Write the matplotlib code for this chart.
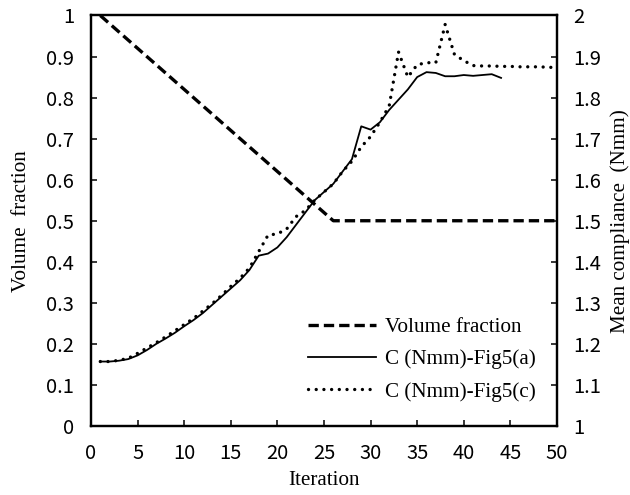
import numpy as np
import matplotlib
matplotlib.use("Agg")
import matplotlib.pyplot as plt

# ── data ──────────────────────────────────────────────────────────────
iters = list(range(1, 51))
vol_frac = [1.00, 0.98, 0.96, 0.94, 0.92, 0.90, 0.88, 0.86, 0.84, 0.82,
            0.80, 0.78, 0.76, 0.74, 0.72, 0.70, 0.68, 0.66, 0.64, 0.62,
            0.60, 0.58, 0.56, 0.54, 0.52, 0.50, 0.50, 0.50, 0.50, 0.50,
            0.50, 0.50, 0.50, 0.50, 0.50, 0.50, 0.50, 0.50, 0.50, 0.50,
            0.50, 0.50, 0.50, 0.50, 0.50, 0.50, 0.50, 0.50, 0.50, 0.50]

iters_a = list(range(1, 45))
comp_a = [1.157, 1.157, 1.159, 1.163, 1.172, 1.185, 1.200, 1.213, 1.227, 1.243,
          1.258, 1.275, 1.295, 1.315, 1.335, 1.355, 1.380, 1.415, 1.420, 1.435,
          1.460, 1.490, 1.520, 1.550, 1.570, 1.590, 1.620, 1.650, 1.730, 1.722,
          1.740, 1.770, 1.795, 1.820, 1.850, 1.862, 1.860, 1.852, 1.852, 1.855,
          1.853, 1.855, 1.857, 1.848]

iters_c = list(range(1, 51))
comp_c = [1.157, 1.157, 1.160, 1.165, 1.177, 1.190, 1.203, 1.217, 1.232, 1.247,
          1.262, 1.280, 1.298, 1.318, 1.340, 1.360, 1.385, 1.425, 1.465, 1.468,
          1.480, 1.510, 1.525, 1.550, 1.570, 1.590, 1.620, 1.645, 1.680, 1.705,
          1.740, 1.780, 1.911, 1.850, 1.880, 1.885, 1.885, 1.978, 1.905, 1.890,
          1.878, 1.877, 1.877, 1.876, 1.876, 1.875, 1.875, 1.875, 1.874, 1.873]

left_ticks = [0, 0.1, 0.2, 0.3, 0.4, 0.5, 0.6, 0.7, 0.8, 0.9, 1]
left_labels = ["0", "0.1", "0.2", "0.3", "0.4", "0.5", "0.6", "0.7", "0.8", "0.9", "1"]
right_ticks = [1, 1.1, 1.2, 1.3, 1.4, 1.5, 1.6, 1.7, 1.8, 1.9, 2]
right_labels = ["1", "1.1", "1.2", "1.3", "1.4", "1.5", "1.6", "1.7", "1.8", "1.9", "2"]
x_ticks = list(range(0, 51, 5))

TICK_FONT = "Noto Sans CJK JP"
LABEL_FONT = "Liberation Serif"
FS = 14.5      # tick labels
LFS = 15.2     # axis labels / legend

fig = plt.figure(figsize=(6.3, 4.95), dpi=100)
ax = fig.add_axes([0.1444, 0.1394, 0.7397, 0.8293])
ax2 = ax.twinx()

# -- curves
l1, = ax.plot(iters, vol_frac, color="black", lw=2.4,
              linestyle=(0, (3.1, 1.5)), label="Volume fraction")
l2, = ax2.plot(iters_a, comp_a, color="black", lw=1.3,
               label="C (Nmm)-Fig5(a)")
l3, = ax2.plot(iters_c, comp_c, color="black", lw=2.4,
               linestyle=(0, (0.01, 2.3)), dash_capstyle="round",
               label="C (Nmm)-Fig5(c)")

# -- axes limits / ticks
ax.set_xlim(0, 50)
ax.set_ylim(0, 1)
ax2.set_ylim(1, 2)
ax.set_xticks(x_ticks)
ax.set_xticklabels([str(t) for t in x_ticks], fontfamily=TICK_FONT, fontsize=FS)
ax.set_yticks(left_ticks)
ax.set_yticklabels(left_labels, fontfamily=TICK_FONT, fontsize=FS)
ax2.set_yticks(right_ticks)
ax2.set_yticklabels(right_labels, fontfamily=TICK_FONT, fontsize=FS)

ax.tick_params(axis="both", direction="in", length=4.3, width=1.1, pad=12)
ax.tick_params(axis="y", right=False)
ax2.tick_params(axis="y", direction="in", length=4.3, width=1.1, pad=12)

for a in (ax, ax2):
    for s in a.spines.values():
        s.set_linewidth(1.6)

ax.set_xlabel("Iteration", fontfamily=LABEL_FONT, fontsize=LFS, labelpad=5)
ax.set_ylabel("Volume  fraction", fontfamily=LABEL_FONT, fontsize=LFS, labelpad=11)
ax2.set_ylabel("Mean compliance  (Nmm)", fontfamily=LABEL_FONT, fontsize=LFS,
               labelpad=6)

# -- legend
leg = ax2.legend(handles=[l1, l2, l3], loc="upper left",
                 bbox_to_anchor=(0.465, 0.265), frameon=False,
                 prop={"family": LABEL_FONT, "size": LFS},
                 handlelength=3.25, handletextpad=0.4, labelspacing=0.6,
                 borderpad=0, borderaxespad=0)

fig.savefig("out.png", dpi=100)
